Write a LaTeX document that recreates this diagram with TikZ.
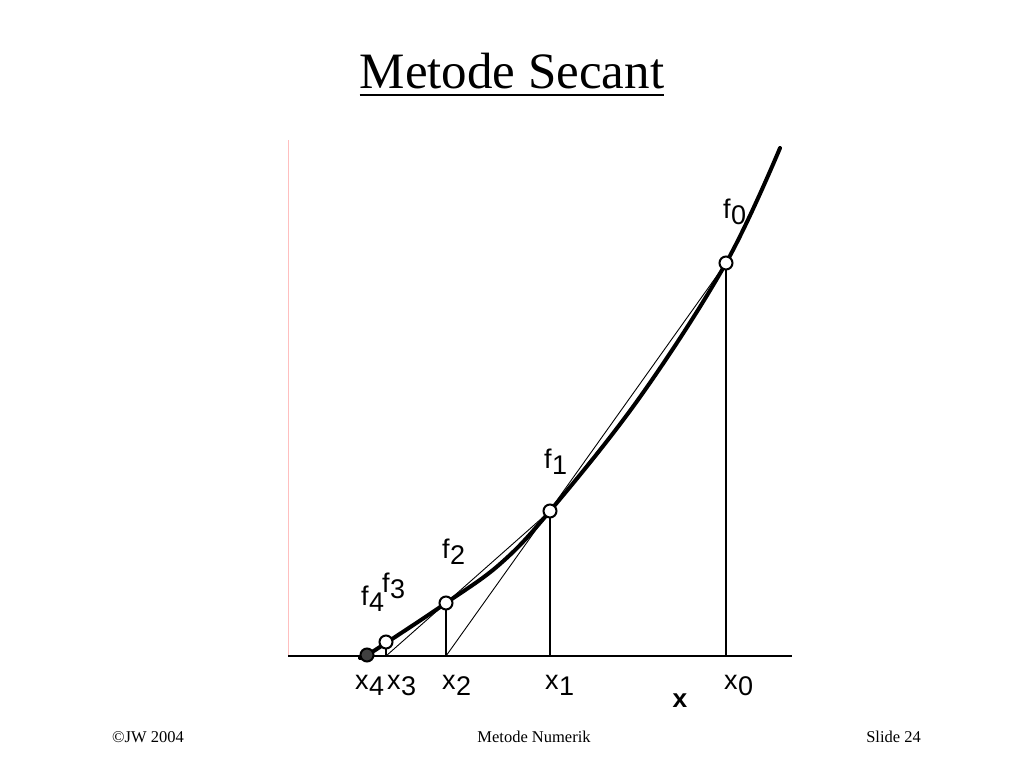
\documentclass[tikz,border=0pt]{standalone}
\usepackage{fontspec}
\setmainfont{Liberation Serif}
\newfontfamily\lblfont{Liberation Sans}
\newfontfamily\monofont{Liberation Mono}
\begin{document}
\begin{tikzpicture}[x=1pt,y=-1pt,
  curve/.style={line width=4pt,line join=round,line cap=round},
  axisline/.style={line width=2pt},
  drop/.style={line width=1.5pt},
  sec/.style={line width=0.9pt},
  pt/.style={circle,draw,line width=2pt,minimum size=13pt,inner sep=0pt,fill=white},
  lbl/.style={font=\lblfont\fontsize{27}{27}\selectfont,inner sep=0pt},
  ft/.style={font=\fontsize{16.5}{16.5}\selectfont,inner sep=0pt}]
\useasboundingbox (0,0) rectangle (1024,768);
\fill[white] (0,0) rectangle (1024,768);
% title
\node[font=\fontsize{51}{51}\selectfont,inner sep=0pt,anchor=base] (title) at (512,88) {Metode Secant};
\draw[line width=1.6pt] (title.south west|-0,95) -- (title.south east|-0,95);
% faint left line
\coordinate (vtop) at (288,140);
\coordinate (vbot) at (288,656);
\draw[red!25,line width=0.9pt] (vtop) -- (vbot);
% axis
\coordinate (ax0) at (288,656);
\coordinate (ax1) at (792,656);
\draw[axisline] (ax0) -- (ax1);
% points
\coordinate (P0) at (726,263);
\coordinate (P1) at (550,511);
\coordinate (P2) at (446,603);
\coordinate (P3) at (386,642);
\coordinate (P4) at (367,655);
\coordinate (X0) at (726,656);
\coordinate (X1) at (550,656);
\coordinate (X2) at (446,656);
\coordinate (X3) at (386,656);
% secants
\draw[sec] (P0) -- (X2);
\draw[sec] (P1) -- (X3);
\draw[sec] (P2) -- (P4);
% drops
\draw[drop] (P0) -- (X0);
\draw[drop] (P1) -- (X1);
\draw[drop] (P2) -- (X2);
\draw[drop] (P3) -- (X3);
% curve
\draw[curve] plot[smooth,tension=0.6] coordinates {(360,658) (367,655) (386,643) (446,603) (500,564) (550,511) (640,397) (726,263) (780,148)};
% markers
\node[pt] (c0) at (P0) {};
\node[pt] (c1) at (P1) {};
\node[pt] (c2) at (P2) {};
\node[pt] (c3) at (P3) {};
\node[pt,fill=black!75] (c4) at (P4) {};
% labels
\newcommand{\sub}[2]{#1\kern0.5pt\raisebox{-6pt}{#2}}
\node[lbl,anchor=base west] (lf0) at (723,218) {\sub{f}{0}};
\node[lbl,anchor=base west] (lf1) at (544,468) {\sub{f}{1}};
\node[lbl,anchor=base west] (lf2) at (442,558) {\sub{f}{2}};
\node[lbl,anchor=base west] (lf3) at (382,592) {\sub{f}{3}};
\node[lbl,anchor=base west] (lf4) at (361,605) {\sub{f}{4}};
\node[lbl,anchor=base west] (lx4) at (355,689) {\sub{x}{4}};
\node[lbl,anchor=base west] (lx3) at (387,689) {\sub{x}{3}};
\node[lbl,anchor=base west] (lx2) at (442,689) {\sub{x}{2}};
\node[lbl,anchor=base west] (lx1) at (545,689) {\sub{x}{1}};
\node[lbl,anchor=base west] (lx0) at (724,689) {\sub{x}{0}};
\node[font=\monofont\bfseries\fontsize{26}{26}\selectfont,inner sep=0pt,anchor=base] (lx) at (680,707) {x};
% footer
\node[ft,anchor=base west] (f1) at (112,742) {©JW 2004};
\node[ft,anchor=base] (f2) at (534,742) {Metode Numerik};
\node[ft,anchor=base east] (f3) at (921,742) {Slide 24};
\end{tikzpicture}
\end{document}
